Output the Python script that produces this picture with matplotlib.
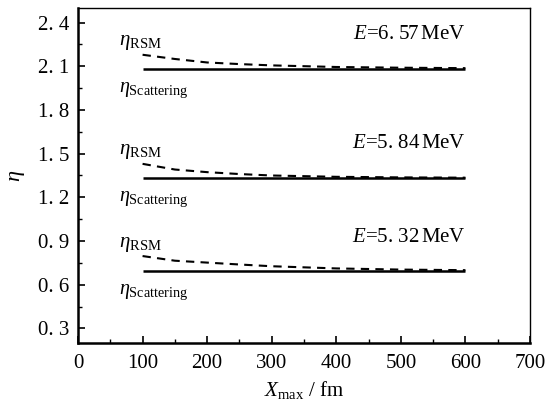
import matplotlib
matplotlib.use("Agg")
import matplotlib.pyplot as plt
from matplotlib.ticker import MultipleLocator, FixedLocator

plt.rcParams['font.family'] = ['Liberation Serif', 'DejaVu Serif']
plt.rcParams['mathtext.fontset'] = 'custom'
plt.rcParams['mathtext.rm'] = 'Liberation Serif'
plt.rcParams['mathtext.it'] = 'Liberation Serif:italic'

x = [100, 150, 200, 250, 300, 400, 500, 600]
energies = ["6. 57", "5. 84", "5. 32"]
scattering = [2.081, 1.332, 0.692]
rsm = [
    [2.179, 2.150, 2.126, 2.115, 2.106, 2.095, 2.090, 2.087],
    [1.430, 1.391, 1.373, 1.360, 1.350, 1.341, 1.337, 1.335],
    [0.797, 0.765, 0.752, 0.739, 0.727, 0.712, 0.704, 0.700],
]
xticks = [0, 100, 200, 300, 400, 500, 600, 700]
yticks = [0.3, 0.6, 0.9, 1.2, 1.5, 1.8, 2.1, 2.4]
ytick_labels = ["0. 3", "0. 6", "0. 9", "1. 2", "1. 5", "1. 8", "2. 1", "2. 4"]

fig = plt.figure(figsize=(5.58, 4.04), dpi=100)
ax = fig.add_axes([78/558, 1 - 343/404, (530-78)/558, (343-8)/404])

for s, r, e in zip(scattering, rsm, energies):
    ax.plot([x[0], x[-1]], [s, s], color='black', lw=1.8, solid_capstyle='butt')
    ax.plot(x, r, color='black', lw=1.5, dashes=(4, 3))
    ax.text(64, s + 0.185, r'$\eta_{\rm RSM}$', fontsize=15, va='center', ha='left')
    ax.text(64, s - 0.145, r'$\eta_{\rm Scattering}$', fontsize=14.5, va='center', ha='left')
    ax.text(600, s + 0.235, r'$E$=' + e + r'$\,$MeV', fontsize=15, va='center', ha='right')

ax.set_xlim(0, 700)
ax.set_ylim(0.2, 2.5)
ax.xaxis.set_major_locator(FixedLocator(xticks))
ax.xaxis.set_minor_locator(MultipleLocator(50))
ax.yaxis.set_major_locator(FixedLocator(yticks))
ax.set_yticklabels(ytick_labels)
ax.yaxis.set_minor_locator(MultipleLocator(0.15))
ax.tick_params(which='both', direction='in', top=False, right=False, labelsize=15)
ax.tick_params(axis='x', pad=8)
ax.tick_params(axis='y', pad=6)
ax.tick_params(which='major', length=5, width=1.2)
ax.tick_params(which='minor', length=3, width=1.0)
ax.spines['left'].set_linewidth(1.8)
ax.spines['bottom'].set_linewidth(1.8)
ax.spines['top'].set_linewidth(1.0)
ax.spines['right'].set_linewidth(1.0)

ax.set_xlabel(r'$X_{\rm max}$ / fm', fontsize=15, labelpad=4)
ax.set_ylabel(r'$\eta$', fontsize=16, labelpad=8)

fig.savefig('out.png', dpi=100)
